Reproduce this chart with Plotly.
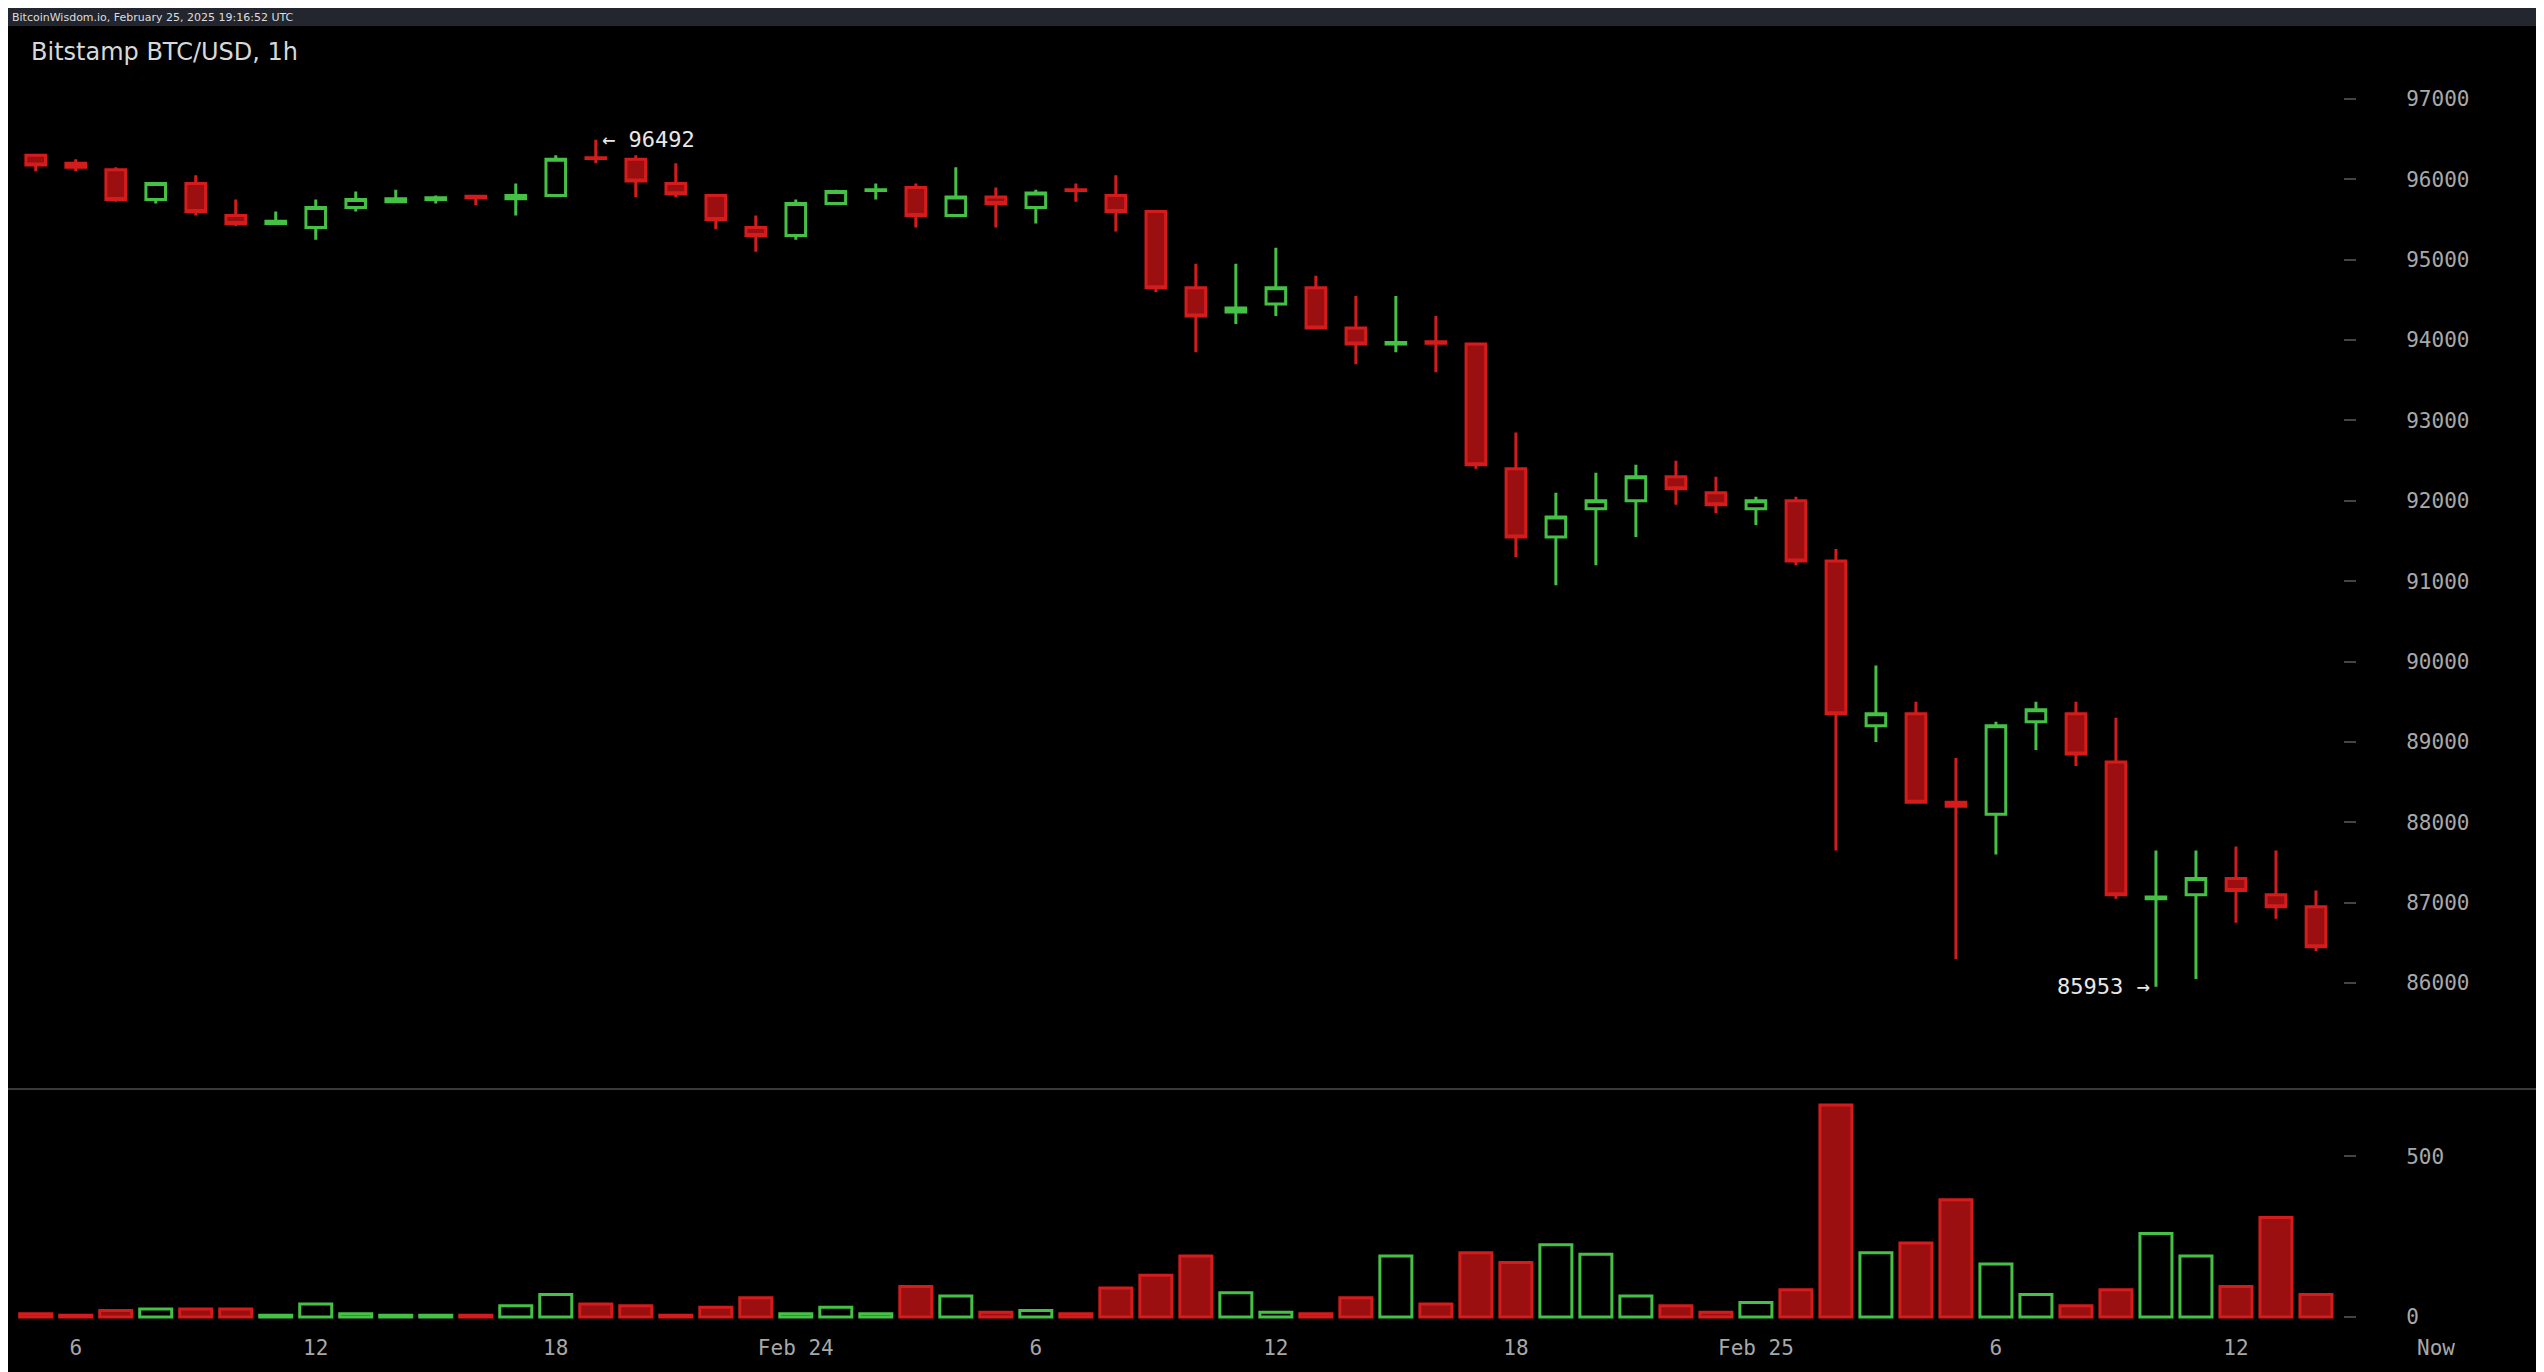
import plotly.graph_objects as go

W, H = 2544, 1372
hours = list(range(58))
opens  = [96300,96200,96120,95750,95950,95550,95450,95400,95650,95720,95750,95790,95760,95800,96270,96250,95950,95800,95400,95300,
          95700,95860,95900,95550,95780,95650,95870,95800,95600,94650,94350,94450,94650,94150,93950,93980,93950,92400,91550,91900,
          92000,92300,92100,91900,92000,91250,89200,89350,88250,88100,89250,89350,88750,87050,87100,87300,87100,86950]
closes = [96180,96150,95750,95950,95600,95450,95480,95650,95750,95760,95770,95770,95800,96250,96260,95980,95820,95500,95300,95700,
          95850,95870,95550,95780,95700,95830,95860,95600,94650,94300,94400,94650,94150,93950,93970,93960,92450,91550,91800,92000,
          92300,92150,91950,92000,91250,89350,89350,88250,88200,89200,89400,88850,87100,87070,87300,87150,86950,86450]
highs  = [96320,96250,96150,95950,96050,95750,95600,95750,95850,95870,95800,95790,95950,96300,96492,96300,96200,95800,95550,95750,
          95870,95950,95950,96150,95900,95870,95950,96050,95600,94950,94950,95150,94800,94550,94550,94300,93950,92850,92100,92350,
          92450,92500,92300,92050,92050,91400,89950,89500,88800,89250,89500,89500,89300,87650,87650,87700,87650,87150]
lows   = [96100,96100,95720,95700,95550,95420,95450,95250,95600,95720,95700,95680,95550,95780,96200,95780,95780,95380,95100,95250,
          95680,95750,95400,95550,95400,95450,95720,95350,94600,93850,94200,94300,94150,93700,93850,93600,92400,91300,90950,91200,
          91550,91950,91850,91700,91200,87650,89000,88250,86300,87600,88900,88700,87050,85953,86050,86750,86800,86400]
volumes = [10,5,20,25,25,25,5,40,10,5,5,5,35,70,40,35,5,30,60,10,
           30,10,95,65,15,20,10,90,130,190,75,15,10,60,190,40,200,170,225,195,
           65,35,15,45,85,660,200,230,365,165,70,35,85,260,190,95,310,70]
tick_hours = [1,7,13,19,25,31,37,43,49,55,60]
tick_labels = ["6","12","18","Feb 24","6","12","18","Feb 25","6","12","Now"]
price_ticks = list(range(86000, 97001, 1000))

GREEN, RED, REDFILL = "#45c246", "#d41c1c", "#9c0f11"
up = [c >= o for o, c in zip(opens, closes)]
OFF = 8  # page offset compensation

def py(y):  # pixel (top) -> paper fraction
    return 1 - (y - OFF) / H

fig = go.Figure()
fig.add_trace(go.Candlestick(
    x=hours, open=opens, high=highs, low=lows, close=closes,
    increasing=dict(line=dict(color=GREEN, width=3), fillcolor="#000000"),
    decreasing=dict(line=dict(color=RED, width=3), fillcolor=REDFILL),
    whiskerwidth=0, xaxis="x", yaxis="y", showlegend=False, hoverinfo="skip"))
fig.add_trace(go.Bar(
    x=hours, y=volumes, width=0.8,
    marker=dict(color=["#000000" if u else REDFILL for u in up],
                line=dict(color=[GREEN if u else RED for u in up], width=3)),
    xaxis="x2", yaxis="y2", showlegend=False, hoverinfo="skip"))

xr = [-0.8925 + OFF / 40, 62.7 + OFF / 40]
axfont = dict(family="DejaVu Sans Mono", size=21, color="#a8a8a8")
ypos = 0.921 - OFF / W
fig.update_layout(
    width=W, height=H, paper_bgcolor="#000000", plot_bgcolor="#000000",
    margin=dict(l=0, r=0, t=0, b=0),
    xaxis=dict(domain=[0, 1], range=xr, anchor="y", showgrid=False, zeroline=False,
               showticklabels=False, rangeslider=dict(visible=False),
               showline=True, linecolor="#3a3a3a", linewidth=2),
    xaxis2=dict(domain=[0, 1], range=xr, anchor="y2", showgrid=False, zeroline=False,
                tickvals=tick_hours, ticktext=tick_labels, tickfont=axfont, ticks=""),
    yaxis=dict(domain=[py(1088), py(65)], range=[84694, 97423], showgrid=False, zeroline=False,
               anchor="free", position=ypos, side="right", tickvals=price_ticks,
               tickformat="d", ticks="outside", ticklen=12, tickcolor="#444", tickwidth=2,
               tickfont=axfont, ticklabelstandoff=46, showline=False),
    yaxis2=dict(domain=[py(1333), py(1090)], range=[-50, 707], showgrid=False, zeroline=False,
                anchor="free", position=ypos, side="right", tickvals=[0, 500], tickformat="d",
                ticks="outside", ticklen=12, tickcolor="#444", tickwidth=2,
                tickfont=axfont, ticklabelstandoff=46),
    shapes=[dict(type="rect", xref="paper", yref="paper", x0=0, x1=1, y0=py(26), y1=1,
                 fillcolor="#23262e", line=dict(width=0), layer="below")],
    annotations=[
        dict(xref="paper", yref="paper", x=2 / W, y=py(17), text="BitcoinWisdom.io, February 25, 2025 19:16:52 UTC",
             showarrow=False, xanchor="left", yanchor="middle",
             font=dict(family="DejaVu Sans", size=11, color="#dddddd")),
        dict(xref="paper", yref="paper", x=(29 - OFF) / W, y=py(52), text="Bitstamp BTC/USD, 1h",
             showarrow=False, xanchor="left", yanchor="middle",
             font=dict(family="DejaVu Sans", size=24, color="#d8d8d8")),
        dict(x=hours[14] + 0.1, y=96492, xref="x", yref="y", text="\u2190 96492", showarrow=False,
             xanchor="left", yanchor="middle", font=dict(family="DejaVu Sans Mono", size=22, color="#e8e8e8")),
        dict(x=hours[53] - 0.1, y=85953, xref="x", yref="y", text="85953 \u2192", showarrow=False,
             xanchor="right", yanchor="middle", font=dict(family="DejaVu Sans Mono", size=22, color="#e8e8e8")),
    ],
)
fig.write_html("out.html")
